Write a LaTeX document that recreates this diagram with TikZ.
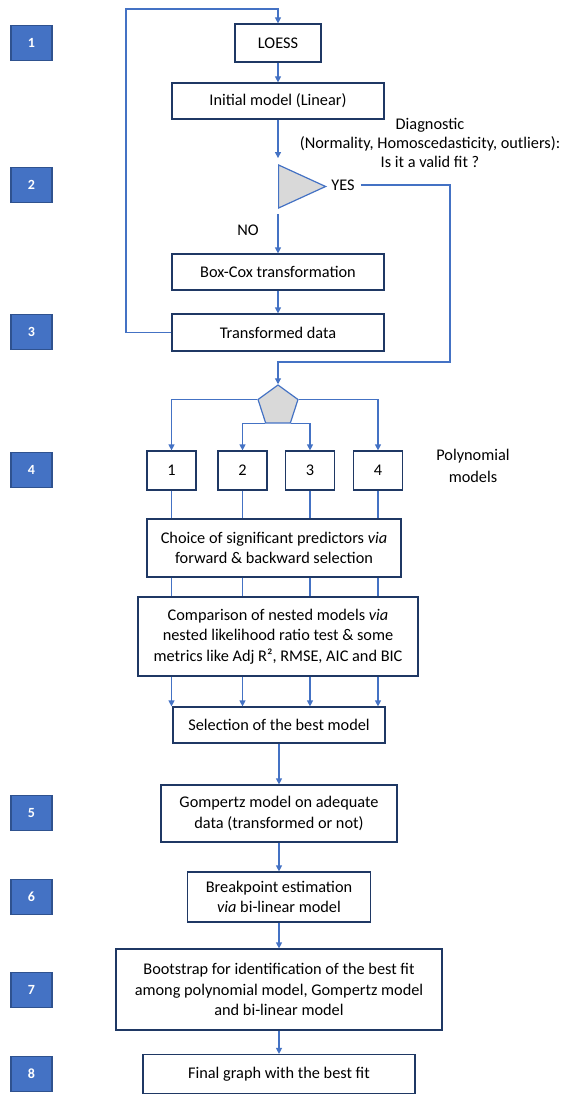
\documentclass[tikz,border=0pt]{standalone}
\usepackage{fontspec}
\setmainfont{Carlito}
\usepackage{xcolor}
\usepackage{tikz}
\usetikzlibrary{shapes.geometric, arrows.meta, positioning}
\definecolor{lineblue}{HTML}{4472C4}
\definecolor{navy}{HTML}{1F3864}
\definecolor{stepdark}{HTML}{2F528F}
\definecolor{decgrey}{HTML}{D9D9D9}
\tikzset{
  box/.style={rectangle, draw=navy, line width=1.2pt, fill=white, align=center, inner sep=0pt, font=\fontsize{16.3}{20.5}\selectfont},
  stepbox/.style={rectangle, draw=stepdark, fill=lineblue, line width=1.2pt, minimum width=41pt, minimum height=35pt, text=white, font=\bfseries\fontsize{14}{16}\selectfont},
  decision/.style={draw=lineblue, fill=decgrey, line width=1.2pt, inner sep=0pt},
  note/.style={align=center, inner sep=0pt, font=\fontsize{16.3}{19}\selectfont},
  arrow/.style={-{Triangle[length=6pt, width=6pt]}, line width=1.2pt, lineblue},
  link/.style={line width=1.2pt, lineblue},
}

\begin{document}
\begin{tikzpicture}[x=1pt, y=-1pt]
    \useasboundingbox (0,0) rectangle (563,1094);
    \foreach \n/\y in {1/43, 2/185, 3/332, 4/470, 5/813, 6/897, 7/990, 8/1074}
        \node[stepbox] (s\n) at (31.5,\y) {\n};

    \node[box, minimum width=86pt, minimum height=38pt] (loess) at (278,43) {LOESS};
    \node[box, minimum width=212pt, minimum height=36pt] (init) at (278,101) {Initial model (Linear)};
    \node[note] (diag) at (430,143) {Diagnostic\\(Normality, Homoscedasticity, outliers):\\Is it a valid fit ?};
    \node[decision, isosceles triangle, isosceles triangle stretches, minimum width=43pt, minimum height=47pt, anchor=lower side] (tri) at (278,186.5) {};
    \node[note, inner sep=6pt] (yes) at (343,185) {YES};
    \node[note] (no) at (248,230) {NO};
    \node[box, minimum width=212pt, minimum height=36pt] (boxcox) at (278,272) {Box-Cox transformation};
    \node[box, minimum width=212pt, minimum height=37pt] (trans) at (278,332.5) {Transformed data};
    \coordinate (looptop) at (126,9);
    \coordinate (yesturn) at (450,362);

    \node[decision, regular polygon, regular polygon sides=5, minimum size=42pt] (pent) at (278,406) {};
    \foreach \i/\x in {1/171.5, 2/242.5, 3/310, 4/378}
        \node[box, minimum width=49pt, minimum height=39pt] (m\i) at (\x,470.5) {\i};
    \node[note, font=\fontsize{16.3}{22}\selectfont] (poly) at (473,466) {Polynomial\\models};

    \node[box, minimum width=254pt, minimum height=58pt] (choice) at (274,548) {Choice of significant predictors \emph{via}\\forward \& backward selection};
    \node[box, minimum width=280pt, minimum height=79pt] (comp) at (278,636.5) {Comparison of nested models \emph{via}\\nested likelihood ratio test \& some\\metrics like Adj R², RMSE, AIC and BIC};
    \node[box, minimum width=212pt, minimum height=36pt] (sel) at (279,725) {Selection of the best model};
    \node[box, minimum width=236pt, minimum height=57pt] (gomp) at (279,813.5) {Gompertz model on adequate\\data (transformed or not)};
    \node[box, minimum width=183pt, minimum height=50pt] (bp) at (279,897) {Breakpoint estimation\\\emph{via} bi-linear model};
    \node[box, minimum width=326pt, minimum height=81pt] (boot) at (279,989.5) {Bootstrap for identification of the best fit\\among polynomial model, Gompertz model\\and bi-linear model};
    \node[box, minimum width=272pt, minimum height=39pt] (final) at (279,1074) {Final graph with the best fit};

    \draw[arrow] (trans.west) -| (looptop) -| (loess.north);
    \draw[arrow] (loess) -- (init);
    \draw[arrow, shorten >=6pt] (init) -- (tri.left corner);
    \draw[arrow, shorten <=5pt] (tri.right corner) -- (boxcox);
    \draw[arrow] (boxcox) -- (trans);
    \draw[arrow] (yes.east) -| (yesturn) -| (pent.corner 1);
    \draw[arrow] (pent.corner 2) -| (m1.north);
    \draw[arrow] (pent.corner 3) -| (m2.north);
    \draw[arrow] (pent.corner 4) -| (m3.north);
    \draw[arrow] (pent.corner 5) -| (m4.north);
    \foreach \i in {1,...,4} {
        \draw[link] (m\i) -- (m\i |- choice.north);
        \draw[link] (m\i |- choice.south) -- (m\i |- comp.north);
        \draw[arrow] (m\i |- comp.south) -- (m\i |- sel.north);
    }
    \draw[arrow] (sel) -- (gomp);
    \draw[arrow] (gomp) -- (bp);
    \draw[arrow] (bp) -- (boot);
    \draw[arrow] (boot) -- (final);
  \end{tikzpicture}
\end{document}
